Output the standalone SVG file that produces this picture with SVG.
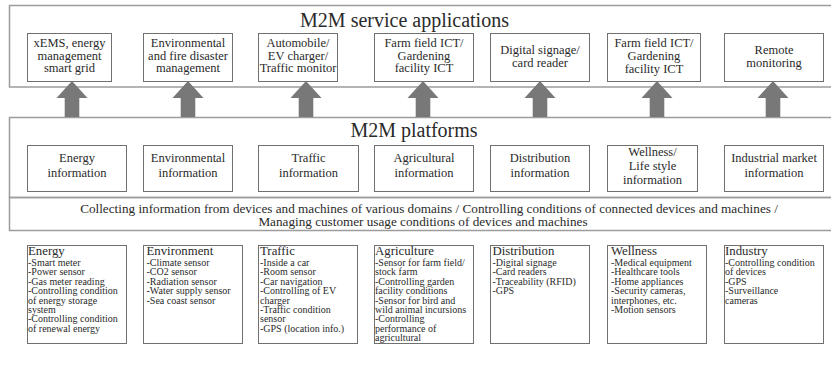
<svg xmlns="http://www.w3.org/2000/svg" width="831" height="372" viewBox="0 0 831 372">
<style>
text{font-family:"Liberation Serif","Times New Roman",serif;fill:#2a2a2a}
.outer{fill:none;stroke:#9c9c9c;stroke-width:1.5}
.box{fill:#fff;stroke:#707070;stroke-width:1}
.title{font-size:20px;text-anchor:middle}
.t{font-size:12.5px;text-anchor:middle}
.c{font-size:13.2px;text-anchor:middle}
.h{font-size:12.8px}
.i{font-size:10px}
.arrow{fill:#787878}
</style>
<rect width="831" height="372" fill="#fff"/>
<g id="services-frame">
<rect class="outer" x="9.5" y="5.5" width="830" height="81.5"/>
<text class="title" x="404.5" y="27">M2M service applications</text>
</g>
<g id="platforms-frame">
<rect class="outer" x="9.5" y="117.5" width="830" height="80"/>
<text class="title" x="414" y="137">M2M platforms</text>
</g>
<g id="collecting">
<rect class="outer" x="9.5" y="197.5" width="830" height="33"/>
<text class="c" x="429" y="212.5">Collecting information from devices and machines of various domains / Controlling conditions of connected devices and machines /</text>
<text class="c" x="423" y="226">Managing customer usage conditions of devices and machines</text>
</g>
<g id="app1"><rect class="box" x="27.5" y="33.5" width="84" height="48"/><text class="t" x="69.5" y="47">xEMS, energy</text><text class="t" x="69.5" y="59.5">management</text><text class="t" x="69.5" y="72">smart grid</text></g>
<g id="app2"><rect class="box" x="143.5" y="33.5" width="89" height="48"/><text class="t" x="188" y="47">Environmental</text><text class="t" x="188" y="59.5">and fire disaster</text><text class="t" x="188" y="72">management</text></g>
<g id="app3"><rect class="box" x="258.5" y="33.5" width="79" height="48"/><text class="t" x="298" y="47">Automobile/</text><text class="t" x="298" y="59.5">EV charger/</text><text class="t" x="298" y="72">Traffic monitor</text></g>
<g id="app4"><rect class="box" x="374.5" y="33.5" width="99" height="48"/><text class="t" x="424" y="47">Farm field ICT/</text><text class="t" x="424" y="59.5">Gardening</text><text class="t" x="424" y="72">facility ICT</text></g>
<g id="app5"><rect class="box" x="490.5" y="33.5" width="99" height="48"/><text class="t" x="540" y="53.5">Digital signage/</text><text class="t" x="540" y="66.5">card reader</text></g>
<g id="app6"><rect class="box" x="607.5" y="33.5" width="93" height="48"/><text class="t" x="654" y="47">Farm field ICT/</text><text class="t" x="654" y="59.5">Gardening</text><text class="t" x="654" y="72.5">facility ICT</text></g>
<g id="app7"><rect class="box" x="724.5" y="33.5" width="99" height="48"/><text class="t" x="774" y="53.5">Remote</text><text class="t" x="774" y="66.5">monitoring</text></g>
<g id="connectors">
<polygon class="arrow" points="72,81 87.5,98 79.3,98 79.3,117 64.7,117 64.7,98 56.5,98"/>
<polygon class="arrow" points="188,81 203.5,98 195.3,98 195.3,117 180.7,117 180.7,98 172.5,98"/>
<polygon class="arrow" points="306,81 321.5,98 313.3,98 313.3,117 298.7,117 298.7,98 290.5,98"/>
<polygon class="arrow" points="423,81 438.5,98 430.3,98 430.3,117 415.7,117 415.7,98 407.5,98"/>
<polygon class="arrow" points="540,81 555.5,98 547.3,98 547.3,117 532.7,117 532.7,98 524.5,98"/>
<polygon class="arrow" points="657,81 672.5,98 664.3,98 664.3,117 649.7,117 649.7,98 641.5,98"/>
<polygon class="arrow" points="773,81 788.5,98 780.3,98 780.3,117 765.7,117 765.7,98 757.5,98"/>
</g>
<g id="plat1"><rect class="box" x="27.5" y="145.5" width="99" height="46"/><text class="t" x="77" y="162">Energy</text><text class="t" x="77" y="176.5">information</text></g>
<g id="plat2"><rect class="box" x="143.5" y="145.5" width="89" height="46"/><text class="t" x="188" y="162">Environmental</text><text class="t" x="188" y="176.5">information</text></g>
<g id="plat3"><rect class="box" x="258.5" y="145.5" width="100" height="46"/><text class="t" x="308.5" y="162">Traffic</text><text class="t" x="308.5" y="176.5">information</text></g>
<g id="plat4"><rect class="box" x="374.5" y="145.5" width="99" height="46"/><text class="t" x="424" y="162">Agricultural</text><text class="t" x="424" y="176.5">information</text></g>
<g id="plat5"><rect class="box" x="490.5" y="145.5" width="99" height="46"/><text class="t" x="540" y="162">Distribution</text><text class="t" x="540" y="176.5">information</text></g>
<g id="plat6"><rect class="box" x="607.5" y="145.5" width="90" height="46"/><text class="t" x="652.5" y="156">Wellness/</text><text class="t" x="652.5" y="170">Life style</text><text class="t" x="652.5" y="184">information</text></g>
<g id="plat7"><rect class="box" x="724.5" y="145.5" width="99" height="46"/><text class="t" x="774" y="162">Industrial market</text><text class="t" x="774" y="176.5">information</text></g>
<g id="dev1"><rect class="box" x="27.5" y="245.5" width="99" height="98"/>
<text class="h" x="28" y="254.5">Energy</text>
<text class="i"><tspan x="28" y="266">-Smart meter</tspan><tspan x="28" dy="9.4">-Power sensor</tspan><tspan x="28" dy="9.4">-Gas meter reading</tspan><tspan x="28" dy="9.4">-Controlling condition</tspan><tspan x="28" dy="9.4">of energy storage</tspan><tspan x="28" dy="9.4">system</tspan><tspan x="28" dy="9.4">-Controlling condition</tspan><tspan x="28" dy="9.4">of renewal energy</tspan></text></g>
<g id="dev2"><rect class="box" x="143.5" y="245.5" width="99" height="98"/>
<text class="h" x="146.5" y="254.5">Environment</text>
<text class="i"><tspan x="146.5" y="266">-Climate sensor</tspan><tspan x="146.5" dy="9.4">-CO2 sensor</tspan><tspan x="146.5" dy="9.4">-Radiation sensor</tspan><tspan x="146.5" dy="9.4">-Water supply sensor</tspan><tspan x="146.5" dy="9.4">-Sea coast sensor</tspan></text></g>
<g id="dev3"><rect class="box" x="258.5" y="245.5" width="99" height="98"/>
<text class="h" x="260" y="254.5">Traffic</text>
<text class="i"><tspan x="260" y="266">-Inside a car</tspan><tspan x="260" dy="9.4">-Room sensor</tspan><tspan x="260" dy="9.4">-Car navigation</tspan><tspan x="260" dy="9.4">-Controlling of EV</tspan><tspan x="260" dy="9.4">charger</tspan><tspan x="260" dy="9.4">-Traffic condition</tspan><tspan x="260" dy="9.4">sensor</tspan><tspan x="260" dy="9.4">-GPS (location info.)</tspan></text></g>
<g id="dev4"><rect class="box" x="374.5" y="245.5" width="99" height="98"/>
<text class="h" x="375" y="254.5">Agriculture</text>
<text class="i"><tspan x="375" y="266">-Sensor for farm field/</tspan><tspan x="375" dy="9.4">stock farm</tspan><tspan x="375" dy="9.4">-Controlling garden</tspan><tspan x="375" dy="9.4">facility conditions</tspan><tspan x="375" dy="9.4">-Sensor for bird and</tspan><tspan x="375" dy="9.4">wild animal incursions</tspan><tspan x="375" dy="9.4">-Controlling</tspan><tspan x="375" dy="9.4">performance of</tspan><tspan x="375" dy="9.4">agricultural</tspan></text></g>
<g id="dev5"><rect class="box" x="490.5" y="245.5" width="99" height="98"/>
<text class="h" x="492.5" y="254.5">Distribution</text>
<text class="i"><tspan x="492.5" y="266">-Digital signage</tspan><tspan x="492.5" dy="9.4">-Card readers</tspan><tspan x="492.5" dy="9.4">-Traceability (RFID)</tspan><tspan x="492.5" dy="9.4">-GPS</tspan></text></g>
<g id="dev6"><rect class="box" x="607.5" y="245.5" width="99" height="98"/>
<text class="h" x="611" y="254.5">Wellness</text>
<text class="i"><tspan x="611" y="266">-Medical equipment</tspan><tspan x="611" dy="9.4">-Healthcare tools</tspan><tspan x="611" dy="9.4">-Home appliances</tspan><tspan x="611" dy="9.4">-Security cameras,</tspan><tspan x="611" dy="9.4">interphones, etc.</tspan><tspan x="611" dy="9.4">-Motion sensors</tspan></text></g>
<g id="dev7"><rect class="box" x="724.5" y="245.5" width="99" height="98"/>
<text class="h" x="725" y="254.5">Industry</text>
<text class="i"><tspan x="725" y="266">-Controlling condition</tspan><tspan x="725" dy="9.4">of devices</tspan><tspan x="725" dy="9.4">-GPS</tspan><tspan x="725" dy="9.4">-Surveillance</tspan><tspan x="725" dy="9.4">cameras</tspan></text></g>
</svg>
